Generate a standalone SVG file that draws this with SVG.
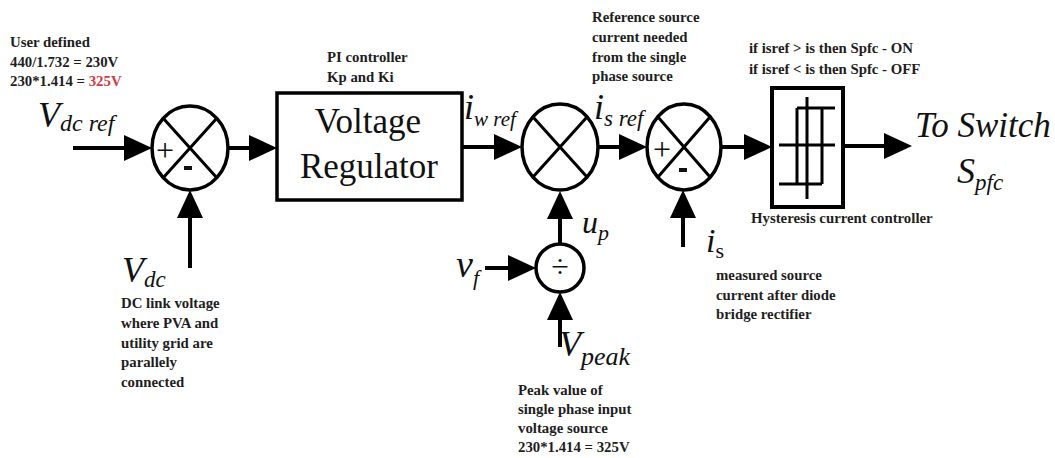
<svg xmlns="http://www.w3.org/2000/svg" width="1055" height="458" viewBox="0 0 1055 458">
<style>
.note{font-family:'Liberation Serif','Times New Roman',serif;font-weight:bold;font-size:14.8px;fill:#1e1e1e}
.sym{font-family:'Liberation Serif','Times New Roman',serif;font-style:italic;fill:#111}
.big{font-family:'Liberation Serif','Times New Roman',serif;font-size:35px;fill:#111}
.sign{font-family:'Liberation Serif','Times New Roman',serif;font-size:32px;fill:#111;text-anchor:middle}
.sh{fill:none;stroke:#000;stroke-width:3.5}
.thin{fill:none;stroke:#000;stroke-width:3}
.wire{fill:none;stroke:#000;stroke-width:4;marker-end:url(#ah)}
</style>
<defs>
<marker id="ah" markerUnits="userSpaceOnUse" markerWidth="30" markerHeight="28" refX="18" refY="13" orient="auto">
<path d="M0,0 L28,13 L0,26 z" fill="#000"/>
</marker>
</defs>
<rect width="1055" height="458" fill="#fff"/>

<g id="notes">
<text class="note" x="10" y="47">User defined</text>
<text class="note" x="10" y="67">440/1.732 = 230V</text>
<text class="note" x="10" y="86">230*1.414 = <tspan fill="#d33a42">325V</tspan></text>
<text class="note" x="327" y="62">PI controller</text>
<text class="note" x="327" y="82">Kp and Ki</text>
<text class="note" x="592" y="22">Reference source</text>
<text class="note" x="592" y="42">current needed</text>
<text class="note" x="592" y="62">from the single</text>
<text class="note" x="592" y="81">phase source</text>
<text class="note" x="749" y="53">if isref &gt; is then Spfc - ON</text>
<text class="note" x="749" y="74">if isref &lt; is then Spfc - OFF</text>
<text class="note" x="751" y="223">Hysteresis current controller</text>
<text class="note" x="121" y="308">DC link voltage</text>
<text class="note" x="121" y="328">where PVA and</text>
<text class="note" x="121" y="348">utility grid are</text>
<text class="note" x="121" y="367">parallely</text>
<text class="note" x="121" y="387">connected</text>
<text class="note" x="716" y="280">measured source</text>
<text class="note" x="716" y="300">current after diode</text>
<text class="note" x="716" y="319">bridge rectifier</text>
<text class="note" x="518" y="395">Peak value of</text>
<text class="note" x="518" y="414">single phase input</text>
<text class="note" x="518" y="433">voltage source</text>
<text class="note" x="518" y="452">230*1.414 = 325V</text>
</g>

<g id="labels">
<text class="sym" x="38" y="127" font-size="36">V<tspan font-size="24" dy="4">dc ref</tspan></text>
<text class="sym" x="122" y="282" font-size="36">V<tspan font-size="23" dy="5">dc</tspan></text>
<text class="sym" x="464" y="119" font-size="36">i<tspan font-size="21" dy="7">w ref</tspan></text>
<text class="sym" x="594" y="119" font-size="36">i<tspan font-size="23" dy="7">s ref</tspan></text>
<text class="sym" x="582" y="233" font-size="32">u<tspan font-size="22" dy="7">p</tspan></text>
<text class="sym" x="456" y="277" font-size="38">v<tspan font-size="22" dy="8">f</tspan></text>
<text class="sym" x="559" y="356" font-size="36">V<tspan font-size="26" dy="9">peak</tspan></text>
<text class="sym" x="706" y="252" font-size="34">i<tspan font-size="22" dy="6" font-style="normal">s</tspan></text>
<text class="sym" x="915" y="137" font-size="35">To Switch</text>
<text class="sym" x="957" y="183" font-size="36">S<tspan font-size="23" dy="7">pfc</tspan></text>
</g>

<g id="sum1">
<ellipse class="sh" cx="190" cy="148" rx="38" ry="42"/>
<path class="thin" d="M163,118 L217,178 M217,118 L163,178"/>
<text class="sign" x="165" y="161">+</text>
<rect x="184" y="166" width="8" height="4" fill="#111"/>
</g>

<g id="voltage-regulator">
<rect class="sh" x="277" y="93" width="185" height="107"/>
<text class="big" x="368" y="133" text-anchor="middle">Voltage</text>
<text class="big" x="369" y="178" text-anchor="middle">Regulator</text>
</g>

<g id="mult">
<ellipse class="sh" cx="560" cy="147" rx="38" ry="43"/>
<path class="thin" d="M533,117 L587,177 M587,117 L533,177"/>
</g>

<g id="divide">
<circle class="sh" cx="560" cy="268" r="24"/>
<text class="sign" x="560" y="277" font-size="30">÷</text>
</g>

<g id="sum3">
<ellipse class="sh" cx="684" cy="147" rx="37" ry="43"/>
<path class="thin" d="M658,117 L710,177 M710,117 L658,177"/>
<text class="sign" x="662" y="160">+</text>
<rect x="679" y="168" width="8" height="4" fill="#111"/>
</g>

<g id="hysteresis">
<rect x="772" y="88" width="71" height="119" fill="none" stroke="#000" stroke-width="4"/>
<path class="thin" d="M807,97 V199 M779,145 H835 M797,108 H835 M797,108 V184 M822,108 V184 M779,184 H822"/>
</g>

<g id="connectors">
<path class="wire" d="M73,148 H142"/>
<path class="wire" d="M228,148 H267"/>
<path class="wire" d="M462,147 H512"/>
<path class="wire" d="M598,147 H637"/>
<path class="wire" d="M721,147 H762"/>
<path class="wire" d="M843,146 H902"/>
<path class="wire" d="M190,268 V200"/>
<path class="wire" d="M560,244 V201"/>
<path class="wire" d="M485,268 H526"/>
<path class="wire" d="M560,347 V302"/>
<path class="wire" d="M683,247 V200"/>
</g>
</svg>
